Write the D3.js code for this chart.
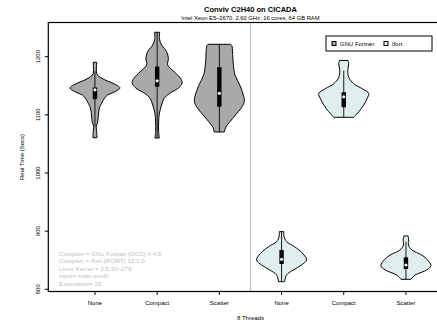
<!DOCTYPE html>
<html><head><meta charset="utf-8">
<script src="https://cdn.jsdelivr.net/npm/d3@7"></script>
<style>html,body{margin:0;padding:0;background:#fff;}svg{display:block;font-family:"Liberation Sans",Arial,Helvetica,sans-serif;}</style>
</head><body>
<svg id="chart" width="437" height="324"></svg>
<script>
// ---- data ----
const categories = ["None", "Compact", "Scatter", "None", "Compact", "Scatter"];
const compilerOf = ["GNU Fortran", "GNU Fortran", "GNU Fortran", "Ifort", "Ifort", "Ifort"];
const legendLabels = ["GNU Fortran", "Ifort"];
const yTicks = [800, 900, 1000, 1100, 1200];
const title = "Conviv C2H40 on CICADA";
const subtitle = "Intel Xeon E5\u20132670, 2.60 GHz, 16 cores, 64 GB RAM";
const xLabel = "8 Threads";
const yLabel = "Real Time (Secs)";
const notes = ["Compiler = GNU Fortran (GCC) 4.4.6", "Compiler = Ifort (IFORT) 12.1.0",
  "Linux Kernel = 2.6.32\u2013279", "Input= stdin\u2013profil", "Executions= 35"];

// density profiles: [value, relative density]
const profileGnuNone = [[1190.4,0.07],[1182,0.06],[1174,0.06],[1168.5,0.10],[1160,0.40],[1154.3,0.72],
  [1146.2,1.0],[1139.8,0.80],[1134,0.50],[1128.5,0.38],[1120,0.27],[1112,0.18],[1100,0.14],
  [1088,0.11],[1079.6,0.05],[1071,0.07],[1060.7,0.08]];
const profileGnuCompact = [[1242,0.10],[1229,0.10],[1220,0.18],[1208.6,0.38],[1197,0.45],[1186,0.42],
  [1174,0.68],[1163,0.93],[1155,1.0],[1146,0.85],[1137,0.50],[1128.5,0.28],[1117,0.18],
  [1103,0.09],[1088,0.06],[1071,0.06],[1060.2,0.09]];
const profileGnuScatter = [[1221.3,0.44],[1219,0.50],[1214,0.52],[1191,0.55],[1168,0.63],[1151,0.82],
  [1134,0.96],[1123,1.0],[1112,0.88],[1100,0.65],[1088,0.42],[1079,0.26],[1072,0.21],[1070.5,0.20]];
const profileIfortNone = [[899.1,0.09],[890.5,0.10],[881.9,0.20],[873.3,0.52],[861.9,0.84],[850.4,1.0],
  [841.8,0.80],[833.2,0.47],[824.6,0.20],[813.1,0.12]];
const profileIfortCompact = [[1193.5,0.17],[1187.8,0.20],[1176.3,0.16],[1164.4,0.20],[1153.5,0.40],
  [1144.9,0.74],[1136.9,1.0],[1128.5,0.94],[1116.9,0.80],[1105.4,0.60],[1095.8,0.40]];
const profileIfortScatter = [[891.7,0.09],[884.8,0.11],[876.2,0.10],[867.6,0.24],[859,0.63],[850.4,0.87],
  [840.6,1.0],[833.2,0.83],[824.6,0.37],[817.2,0.20]];
const profiles = [profileGnuNone, profileGnuCompact, profileGnuScatter,
  profileIfortNone, profileIfortCompact, profileIfortScatter];

// box statistics
const q1 = [1127, 1148.4, 1114, 843.5, 1113, 835];
const medians = [1143, 1158.5, 1137, 851.6, 1131, 841.8];
const q3 = [1147, 1183, 1182, 867.6, 1139, 855];
const whiskerLo = [1080, 1060, 1070.5, 813.1, 1095.8, 817.2];
const whiskerHi = [1175, 1242, 1221.3, 899.1, 1176, 882];

// ---- drawing ----
const colors = {"GNU Fortran": "#a9a9a9", "Ifort": "#e0eeee"};
const svg = d3.select("#chart");
const pLeft = 48.3, pRight = 452.6, pTop = 22.5, pBottom = 291.5;
const x = d3.scaleLinear().domain([0.25, 6.75]).range([pLeft, pRight]);
const y = d3.scaleLinear().domain([796.2, 1258.8]).range([pBottom, pTop]);
const halfW = 25;

// separator
svg.append("line").attr("x1", x(3.5)).attr("x2", x(3.5)).attr("y1", pTop).attr("y2", pBottom)
  .attr("stroke", "#bebebe").attr("stroke-width", 1);

// violins
profiles.forEach((prof, i) => {
  const cx = x(i + 1);
  const area = d3.area()
    .y(d => y(d[0]))
    .x0(d => cx - d[1] * halfW)
    .x1(d => cx + d[1] * halfW)
    .curve(d3.curveCatmullRom.alpha(0.5));
  svg.append("path").datum(prof).attr("d", area)
    .attr("fill", colors[compilerOf[i]]).attr("stroke", "#000").attr("stroke-width", 1);
  svg.append("line").attr("x1", cx).attr("x2", cx)
    .attr("y1", y(whiskerLo[i])).attr("y2", y(whiskerHi[i]))
    .attr("stroke", "#000").attr("stroke-width", 0.9);
  svg.append("rect").attr("x", cx - 2.2).attr("width", 4.4)
    .attr("y", y(q3[i])).attr("height", y(q1[i]) - y(q3[i])).attr("fill", "#000");
  svg.append("circle").attr("cx", cx).attr("cy", y(medians[i])).attr("r", 1.6).attr("fill", "#fff");
});

// frame
svg.append("rect").attr("x", pLeft).attr("y", pTop).attr("width", pRight - pLeft).attr("height", pBottom - pTop)
  .attr("fill", "none").attr("stroke", "#000").attr("stroke-width", 1.2);

// y axis
const gy = svg.append("g");
yTicks.forEach(t => {
  gy.append("line").attr("x1", pLeft - 3.5).attr("x2", pLeft).attr("y1", y(t)).attr("y2", y(t))
    .attr("stroke", "#000").attr("stroke-width", 1);
  gy.append("text").attr("transform", `translate(40,${y(t)}) rotate(-90)`)
    .attr("text-anchor", "middle").attr("font-size", 6).attr("fill", "#000").text(t);
});
// x axis
categories.forEach((c, i) => {
  const cx = x(i + 1);
  svg.append("line").attr("x1", cx).attr("x2", cx).attr("y1", pBottom).attr("y2", pBottom + 3.5)
    .attr("stroke", "#000").attr("stroke-width", 1);
  svg.append("text").attr("x", cx).attr("y", 305).attr("text-anchor", "middle")
    .attr("font-size", 6).attr("fill", "#000").text(c);
});

svg.append("text").attr("x", x(3.5)).attr("y", 319.5).attr("text-anchor", "middle")
  .attr("font-size", 6).text(xLabel);
svg.append("text").attr("transform", `translate(24,${(pTop + pBottom) / 2}) rotate(-90)`)
  .attr("text-anchor", "middle").attr("font-size", 6).text(yLabel);
svg.append("text").attr("x", x(3.5)).attr("y", 12).attr("text-anchor", "middle")
  .attr("font-size", 7.5).attr("font-weight", "bold").text(title);
svg.append("text").attr("x", x(3.5)).attr("y", 20).attr("text-anchor", "middle")
  .attr("font-size", 5.8).text(subtitle);

// notes
notes.forEach((n, i) => {
  svg.append("text").attr("x", 59).attr("y", 255.5 + i * 7.6).attr("font-size", 6.2)
    .attr("fill", "#bebebe").text(n);
});

// legend
const lg = svg.append("g");
lg.append("rect").attr("x", 326).attr("y", 36).attr("width", 106).attr("height", 15)
  .attr("fill", "#fff").attr("stroke", "#000").attr("stroke-width", 1);
const legX = [332, 384];
legendLabels.forEach((l, i) => {
  lg.append("rect").attr("x", legX[i]).attr("y", 41.5).attr("width", 4).attr("height", 4)
    .attr("fill", colors[l]).attr("stroke", "#000").attr("stroke-width", 1);
  lg.append("text").attr("x", legX[i] + 8).attr("y", 45.8).attr("font-size", 6).text(l);
});
</script>
</body></html>
